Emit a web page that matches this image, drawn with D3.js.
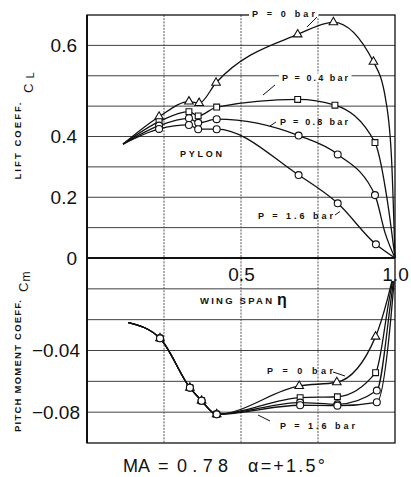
<!DOCTYPE html>
<html>
<head>
<meta charset="utf-8">
<script src="https://cdn.jsdelivr.net/npm/d3@7"></script>
<style>
  body { margin: 0; background: #fff; }
  text { font-family: "Liberation Sans", Arial, Helvetica, sans-serif; fill: #111; }
</style>
</head>
<body>
<svg id="chart" width="411" height="477"></svg>
<script>
// [eta, value, symbol drawn?]
const liftP0  = [[0.117,0.375,0],[0.234,0.465,1],[0.331,0.515,1],[0.364,0.510,1],[0.419,0.577,1],[0.684,0.736,1],[0.800,0.776,1],[0.930,0.646,1],[0.970,0.520,0],[0.989,0.322,0],[1.0,0,0]];
const liftP04 = [[0.117,0.375,0],[0.234,0.449,1],[0.331,0.482,1],[0.361,0.468,1],[0.421,0.497,1],[0.684,0.522,1],[0.805,0.503,1],[0.935,0.380,1],[0.975,0.190,0],[1.0,0,0]];
const liftP08 = [[0.117,0.375,0],[0.234,0.436,1],[0.331,0.460,1],[0.361,0.445,1],[0.421,0.457,1],[0.687,0.403,1],[0.814,0.341,1],[0.935,0.207,1],[0.968,0.082,0],[1.0,0,0]];
const liftP16 = [[0.117,0.375,0],[0.234,0.425,1],[0.331,0.438,1],[0.361,0.424,1],[0.421,0.424,1],[0.687,0.273,1],[0.814,0.180,1],[0.938,0.045,1],[1.0,0,0]];

// pitch moment, inner part is the same for every pressure
const momInner = [[0.134,-0.0219,0],[0.237,-0.0321,1],[0.334,-0.0641,1],[0.372,-0.0726,1],[0.421,-0.0814,1]];
const momP0  = momInner.concat([[0.689,-0.0630,1],[0.811,-0.0606,1],[0.937,-0.0310,1],[0.975,-0.0070,0],[0.990,0.0050,0]]);
const momP04 = momInner.concat([[0.692,-0.0706,1],[0.813,-0.0700,1],[0.937,-0.0544,1],[0.981,-0.0070,0],[0.992,0.0050,0]]);
const momP08 = momInner.concat([[0.692,-0.0738,1],[0.813,-0.0749,1],[0.941,-0.0660,1],[0.987,-0.0070,0],[0.995,0.0050,0]]);
const momP16 = momInner.concat([[0.692,-0.0755,1],[0.813,-0.0758,1],[0.941,-0.0736,1],[0.992,-0.0070,0],[0.997,0.0050,0]]);

const pressures = ["0", "0.4", "0.8", "1.6"];

const liftTicks = [0, 0.2, 0.4, 0.7];
const liftTickLabels = ["0", "0.2", "0.4", "0.6"];
const momTicks = [-0.04, -0.08];
const momTickLabels = ["\u22120.04", "\u22120.08"];
const spanTicks = [0.5, 1.0];
const spanTickLabels = ["0.5", "1.0"];

const svg = d3.select("#chart");

const x = d3.scaleLinear().domain([0, 1]).range([87, 395]);
const yL = d3.scaleLinear().domain([0, 0.8]).range([258, 15]);
const yM = d3.scaleLinear().domain([-0.10, 0.02]).range([443, 258]);

const symbolOf = {
  "0": d3.symbol().type(d3.symbolTriangle).size(32),
  "0.4": d3.symbol().type(d3.symbolSquare).size(34),
  "0.8": d3.symbol().type(d3.symbolCircle).size(38),
  "1.6": d3.symbol().type(d3.symbolCircle).size(38)
};

// grid
let grid = svg.append("g").attr("stroke", "#2a2a2a").attr("fill", "none");
grid.selectAll(".hl").data(yL.ticks(8).filter(v => v > 0.001 && v < 0.79))
  .enter().append("line")
  .attr("x1", x(0)).attr("x2", x(1))
  .attr("y1", d => yL(d)).attr("y2", d => yL(d))
  .attr("stroke-width", 0.9);
grid.selectAll(".hm").data(yM.ticks(6).filter(v => v > -0.099 && v < 0.019))
  .enter().append("line")
  .attr("x1", x(0)).attr("x2", x(1))
  .attr("y1", d => yM(d)).attr("y2", d => yM(d))
  .attr("stroke-width", 0.9);
grid.selectAll(".vl").data([0.25, 0.5, 0.75])
  .enter().append("line")
  .attr("x1", d => x(d)).attr("x2", d => x(d))
  .attr("y1", yL(0.8)).attr("y2", yM(-0.10))
  .attr("stroke", "#444")
  .attr("stroke-dasharray", "2,1.2")
  .attr("stroke-width", 0.9);

// frame
svg.append("rect")
  .attr("x", x(0)).attr("y", yL(0.8))
  .attr("width", x(1) - x(0)).attr("height", yM(-0.10) - yL(0.8))
  .attr("fill", "none").attr("stroke", "#111").attr("stroke-width", 1.3);
svg.append("line")
  .attr("x1", x(0)).attr("x2", x(1))
  .attr("y1", yL(0)).attr("y2", yL(0))
  .attr("stroke", "#111").attr("stroke-width", 2);
svg.append("line")
  .attr("x1", x(0)).attr("x2", x(0))
  .attr("y1", yL(0.8)).attr("y2", yM(-0.10))
  .attr("stroke", "#111").attr("stroke-width", 2);

// tick labels
function styleAxis(g) {
  g.select(".domain").remove();
  g.selectAll("text")
    .attr("fill", "#111")
    .style("font-family", '"Liberation Sans", Arial, sans-serif')
    .style("font-size", "19px");
}
svg.append("g").attr("transform", `translate(${x(0)},0)`)
  .call(d3.axisLeft(yL).tickValues(liftTicks).tickSize(0).tickPadding(10)
    .tickFormat((d, i) => liftTickLabels[i]))
  .call(styleAxis);
svg.append("g").attr("transform", `translate(${x(0)},0)`)
  .call(d3.axisLeft(yM).tickValues(momTicks).tickSize(0).tickPadding(7)
    .tickFormat((d, i) => momTickLabels[i]))
  .call(styleAxis);
svg.append("g").attr("transform", `translate(0,${yL(0)})`)
  .call(d3.axisBottom(x).tickValues(spanTicks).tickSize(0).tickPadding(10)
    .tickFormat((d, i) => spanTickLabels[i]))
  .call(styleAxis);

// curves
let liftLine = d3.line().x(d => x(d[0])).y(d => yL(d[1])).curve(d3.curveMonotoneX);
let momLine = d3.line().x(d => x(d[0])).y(d => yM(d[1])).curve(d3.curveMonotoneX);

function drawSeries(series, line, yScale) {
  series.forEach((pts, i) => {
    svg.append("path")
      .attr("d", line(pts))
      .attr("fill", "none")
      .attr("stroke", "#111")
      .attr("stroke-width", 1.3);
  });
  series.forEach((pts, i) => {
    svg.append("g").selectAll("path")
      .data(pts.filter(d => d[2]))
      .enter().append("path")
      .attr("d", symbolOf[pressures[i]])
      .attr("transform", d => `translate(${x(d[0])},${yScale(d[1])})`)
      .attr("fill", "#fff")
      .attr("stroke", "#111")
      .attr("stroke-width", 1.1);
  });
}
drawSeries([liftP0, liftP04, liftP08, liftP16], liftLine, yL);
drawSeries([momP0, momP04, momP08, momP16], momLine, yM);

// annotations
let notes = svg.append("g");
function note(txt, tx, ty, len, lead, blank) {
  let t = notes.append("text")
    .attr("x", tx).attr("y", ty)
    .attr("textLength", len).attr("lengthAdjust", "spacing")
    .style("font-size", "9px").style("font-weight", "bold")
    .text(txt);
  if (blank) {
    let b = t.node().getBBox();
    notes.insert("rect", "text")
      .attr("x", b.x - 3).attr("y", b.y + 1)
      .attr("width", b.width + 6).attr("height", b.height - 2)
      .attr("fill", "#fff");
  }
  if (lead) {
    notes.append("line")
      .attr("x1", lead[0]).attr("y1", lead[1])
      .attr("x2", lead[2]).attr("y2", lead[3])
      .attr("stroke", "#111").attr("stroke-width", 1);
  }
}
note("P = 0 bar", 252, 17, 63, [317, 17, 307, 27], true);
note("P = 0.4 bar", 282, 80.5, 66, [275, 85, 263, 95], true);
note("P = 0.8 bar", 280, 125, 68, [276, 122, 270, 126], false);
note("P = 1.6 bar", 258, 218.5, 75, [335, 215, 340, 211.5], false);
note("PYLON", 180, 157, 42, null, false);
note("P = 0 bar", 267, 374, 66, [333, 372, 345, 376], false);
note("P = 1.6 bar", 280, 429, 75, [270, 421, 258, 415], false);

// axis titles
svg.append("text")
  .attr("transform", "translate(21,141) rotate(-90)")
  .attr("text-anchor", "middle")
  .attr("textLength", 77).attr("lengthAdjust", "spacing")
  .style("font-size", "9.5px").style("font-weight", "bold")
  .text("LIFT COEFF.");
svg.append("text")
  .attr("transform", "translate(21,366) rotate(-90)")
  .attr("text-anchor", "middle")
  .attr("textLength", 132).attr("lengthAdjust", "spacing")
  .style("font-size", "9.5px").style("font-weight", "bold")
  .text("PITCH MOMENT COEFF.");

let cl = svg.append("text")
  .attr("transform", "translate(33,93) rotate(-90)")
  .style("font-size", "13px");
cl.append("tspan").text("C");
cl.append("tspan").attr("dx", 5).attr("dy", 1).style("font-size", "11px").text("L");

let cm = svg.append("text")
  .attr("transform", "translate(28,292) rotate(-90)")
  .style("font-size", "13px");
cm.append("tspan").text("C");
cm.append("tspan").attr("dx", 1).attr("dy", 2).style("font-size", "12px").text("m");

svg.append("text")
  .attr("x", 200).attr("y", 304)
  .attr("textLength", 72).attr("lengthAdjust", "spacing")
  .style("font-size", "9.5px").style("font-weight", "bold")
  .text("WING SPAN");
svg.append("text")
  .attr("x", 277).attr("y", 305)
  .style("font-size", "16px").style("font-weight", "bold")
  .text("\u03b7");

// run conditions
let cond = svg.append("g").style("font-size", "18px");
cond.append("text").attr("x", 123).attr("y", 472).text("MA");
cond.append("text").attr("x", 158).attr("y", 472).text("=");
cond.append("text").attr("x", 177).attr("y", 472)
  .attr("textLength", 51).attr("lengthAdjust", "spacing").text("0.78");
cond.append("text").attr("x", 248).attr("y", 472)
  .attr("textLength", 77).attr("lengthAdjust", "spacing").text("\u03b1=+1.5\u00b0");
</script>
</body>
</html>
